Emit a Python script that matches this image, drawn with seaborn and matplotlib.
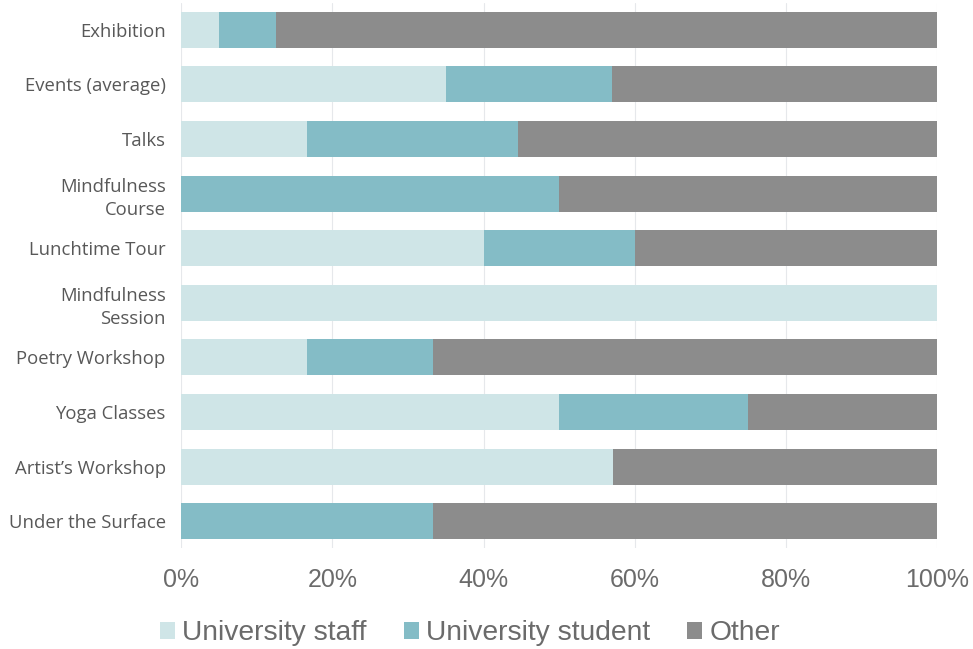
import matplotlib
matplotlib.use("Agg")
import matplotlib.pyplot as plt
import matplotlib.ticker as mticker
from matplotlib.patches import Patch
import numpy as np
import pandas as pd
import seaborn as sns

# Audience share per activity (percent of attendees)
activities = [
    "Exhibition", "Events (average)", "Talks", "Mindfulness\nCourse",
    "Lunchtime Tour", "Mindfulness\nSession", "Poetry Workshop",
    "Yoga Classes", "Artist\u2019s Workshop", "Under the Surface",
]
staff = [5.0, 35.0, 16.7, 0.0, 40.0, 100.0, 16.7, 50.0, 57.1, 0.0]
student = [7.5, 22.0, 27.8, 50.0, 20.0, 0.0, 16.6, 25.0, 0.0, 33.3]
other = [87.5, 43.0, 55.5, 50.0, 40.0, 0.0, 66.7, 25.0, 42.9, 66.7]

series = ["University staff", "University student", "Other"]
colors = ["#cfe5e7", "#84bcc6", "#8c8c8c"]
x_ticks = [0, 20, 40, 60, 80, 100]

df = pd.DataFrame({"activity": activities, "staff": staff,
                   "student": student, "other": other})
df["cum_staff"] = df["staff"]
df["cum_student"] = df["staff"] + df["student"]
df["cum_other"] = df["cum_student"] + df["other"]

sns.set_theme(style="white")
plt.rcParams["font.family"] = ["Liberation Sans", "DejaVu Sans"]

fig = plt.figure(figsize=(9.73, 6.49), dpi=100)
ax = fig.add_axes([0.186, 0.155, 0.7775, 0.841])

# stacked bars drawn as overlapping cumulative totals
for col, color in zip(["cum_other", "cum_student", "cum_staff"], colors[::-1]):
    sns.barplot(data=df, x=col, y="activity", orient="h", color=color,
                width=0.66, saturation=1, linewidth=0, ax=ax, zorder=2)

ax.set_xlim(0, 100)
ax.set_ylim(len(activities) - 0.5, -0.5)
ax.set_xticks(x_ticks)
ax.xaxis.set_major_formatter(mticker.FuncFormatter(lambda v, p: f"{v:.0f}%"))
ax.grid(axis="x", color="#e6e8eb", linewidth=0.8, zorder=0)
ax.set_axisbelow(True)
for s in ax.spines.values():
    s.set_visible(False)
ax.set_xlabel("")
ax.set_ylabel("")
ax.tick_params(axis="x", labelsize=18, labelcolor="#6b6b6b", pad=14, length=0)
ax.tick_params(axis="y", length=0, pad=11)
for lbl in ax.get_yticklabels():
    lbl.set_fontfamily(["Open Sans", "DejaVu Sans"])
    lbl.set_fontsize(13.3)
    lbl.set_color("#585858")
    lbl.set_horizontalalignment("right")
    lbl.set_multialignment("right")
    lbl.set_linespacing(1.4)

handles = [Patch(facecolor=c, edgecolor="none") for c in colors]
fig.legend(handles, series, loc="center", bbox_to_anchor=(0.483, 0.024),
           ncol=3, frameon=False, fontsize=20.3, labelcolor="#6b6b6b",
           handlelength=0.55, handleheight=0.55, handletextpad=0.25,
           columnspacing=1.3)

fig.savefig("out.png", dpi=100)
